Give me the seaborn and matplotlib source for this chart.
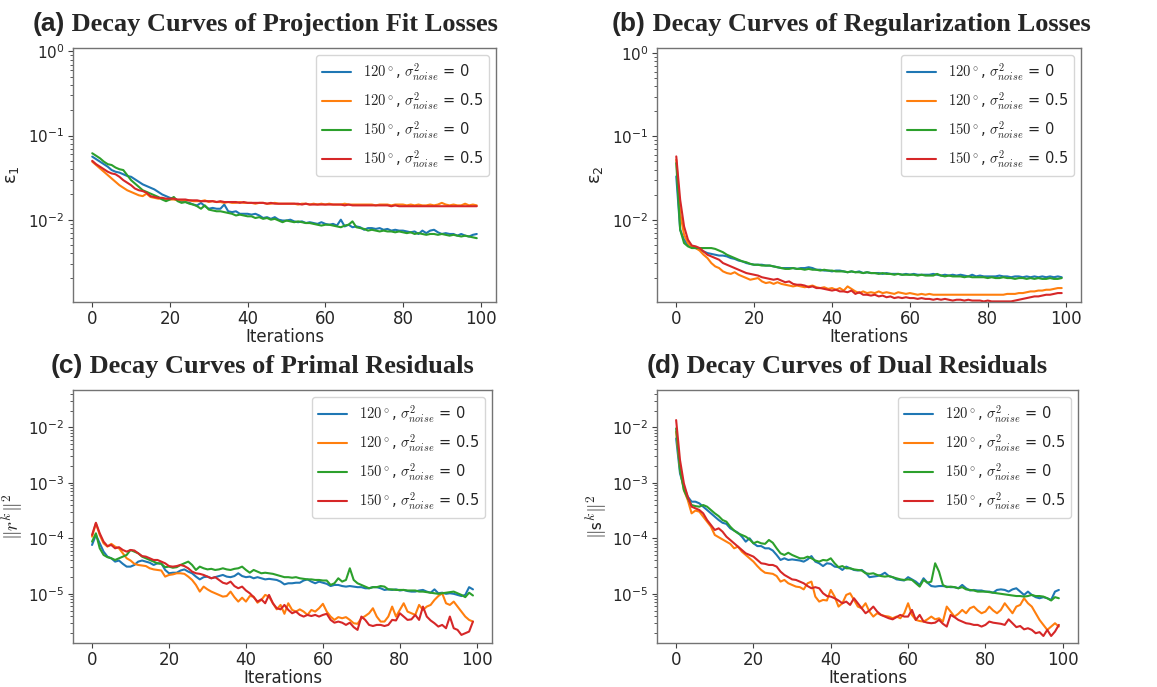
import matplotlib
matplotlib.use("Agg")
import matplotlib.pyplot as plt
import numpy as np
import seaborn as sns

sns.set_style("white")
plt.rcParams['font.family'] = ['DejaVu Sans']
plt.rcParams['mathtext.fontset'] = 'cm'
plt.rcParams['axes.unicode_minus'] = False

# all curve values are log10 of the plotted quantity
iterations = np.arange(100)

fit_120_clean = [-1.25,-1.28,-1.31,-1.34,-1.37,-1.41,-1.43,-1.44,-1.46,-1.48,
 -1.49,-1.52,-1.55,-1.58,-1.60,-1.62,-1.64,-1.67,-1.70,-1.72,
 -1.74,-1.75,-1.77,-1.78,-1.79,-1.80,-1.82,-1.83,-1.80,-1.84,
 -1.87,-1.86,-1.87,-1.87,-1.82,-1.90,-1.91,-1.90,-1.93,-1.93,
 -1.93,-1.94,-1.93,-1.95,-1.98,-1.97,-1.99,-1.97,-2.00,-2.01,
 -2.01,-2.00,-2.02,-2.03,-2.02,-2.04,-2.03,-2.04,-2.05,-2.03,
 -2.05,-2.06,-2.05,-2.07,-2.00,-2.08,-2.06,-2.09,-2.08,-2.09,
 -2.12,-2.10,-2.10,-2.11,-2.10,-2.12,-2.11,-2.13,-2.12,-2.13,
 -2.13,-2.14,-2.15,-2.14,-2.17,-2.13,-2.16,-2.13,-2.12,-2.15,
 -2.17,-2.16,-2.17,-2.17,-2.19,-2.17,-2.19,-2.20,-2.18,-2.17]
fit_120_noisy = [-1.31,-1.35,-1.39,-1.43,-1.47,-1.51,-1.55,-1.59,-1.62,-1.65,
 -1.67,-1.69,-1.71,-1.72,-1.69,-1.73,-1.74,-1.75,-1.75,-1.76,
 -1.76,-1.76,-1.77,-1.77,-1.77,-1.77,-1.78,-1.78,-1.78,-1.77,
 -1.79,-1.78,-1.79,-1.79,-1.80,-1.79,-1.80,-1.80,-1.79,-1.80,
 -1.80,-1.80,-1.81,-1.80,-1.80,-1.81,-1.81,-1.80,-1.81,-1.81,
 -1.81,-1.81,-1.81,-1.82,-1.81,-1.81,-1.82,-1.81,-1.82,-1.81,
 -1.82,-1.81,-1.82,-1.82,-1.82,-1.81,-1.82,-1.82,-1.82,-1.82,
 -1.82,-1.82,-1.82,-1.83,-1.82,-1.82,-1.82,-1.83,-1.82,-1.82,
 -1.82,-1.83,-1.82,-1.83,-1.82,-1.83,-1.83,-1.82,-1.83,-1.82,
 -1.80,-1.82,-1.83,-1.82,-1.83,-1.83,-1.81,-1.83,-1.82,-1.83]
fit_150_clean = [-1.21,-1.24,-1.27,-1.31,-1.34,-1.35,-1.38,-1.40,-1.41,-1.47,
 -1.53,-1.57,-1.61,-1.65,-1.67,-1.69,-1.71,-1.73,-1.76,-1.78,
 -1.76,-1.73,-1.78,-1.80,-1.79,-1.81,-1.82,-1.84,-1.87,-1.83,
 -1.88,-1.89,-1.90,-1.90,-1.91,-1.92,-1.93,-1.95,-1.94,-1.95,
 -1.96,-1.96,-1.98,-1.97,-1.99,-1.98,-2.00,-1.99,-2.01,-2.03,
 -2.01,-2.02,-2.03,-2.02,-2.03,-2.04,-2.04,-2.05,-2.06,-2.07,
 -2.06,-2.06,-2.07,-2.08,-2.09,-2.07,-2.06,-2.02,-2.09,-2.10,
 -2.11,-2.13,-2.12,-2.13,-2.14,-2.13,-2.14,-2.14,-2.15,-2.14,
 -2.15,-2.16,-2.15,-2.17,-2.16,-2.17,-2.18,-2.17,-2.17,-2.18,
 -2.17,-2.18,-2.19,-2.18,-2.19,-2.20,-2.19,-2.20,-2.21,-2.22]
fit_150_noisy = [-1.30,-1.34,-1.37,-1.40,-1.43,-1.45,-1.46,-1.49,-1.53,-1.56,
 -1.59,-1.63,-1.65,-1.66,-1.68,-1.72,-1.73,-1.74,-1.74,-1.75,
 -1.75,-1.75,-1.76,-1.76,-1.76,-1.77,-1.77,-1.77,-1.78,-1.78,
 -1.78,-1.78,-1.79,-1.78,-1.79,-1.79,-1.79,-1.79,-1.80,-1.79,
 -1.80,-1.80,-1.80,-1.80,-1.80,-1.81,-1.80,-1.81,-1.81,-1.81,
 -1.81,-1.81,-1.81,-1.81,-1.82,-1.81,-1.82,-1.82,-1.82,-1.82,
 -1.82,-1.82,-1.82,-1.82,-1.82,-1.83,-1.82,-1.83,-1.83,-1.83,
 -1.83,-1.83,-1.83,-1.83,-1.83,-1.83,-1.83,-1.84,-1.83,-1.84,
 -1.84,-1.84,-1.84,-1.84,-1.84,-1.84,-1.84,-1.84,-1.84,-1.84,
 -1.84,-1.84,-1.84,-1.84,-1.84,-1.84,-1.84,-1.84,-1.84,-1.84]

reg_120_clean = [-1.48,-2.12,-2.24,-2.30,-2.33,-2.34,-2.36,-2.38,-2.40,-2.41,
 -2.42,-2.43,-2.43,-2.44,-2.46,-2.47,-2.49,-2.50,-2.52,-2.53,
 -2.54,-2.54,-2.54,-2.55,-2.55,-2.56,-2.57,-2.58,-2.58,-2.58,
 -2.58,-2.59,-2.58,-2.58,-2.57,-2.58,-2.60,-2.60,-2.61,-2.61,
 -2.62,-2.61,-2.61,-2.62,-2.63,-2.62,-2.63,-2.62,-2.64,-2.63,
 -2.64,-2.64,-2.64,-2.65,-2.64,-2.65,-2.65,-2.65,-2.66,-2.65,
 -2.66,-2.65,-2.66,-2.66,-2.66,-2.66,-2.65,-2.66,-2.67,-2.66,
 -2.67,-2.66,-2.67,-2.66,-2.67,-2.68,-2.66,-2.68,-2.67,-2.68,
 -2.68,-2.68,-2.68,-2.67,-2.68,-2.68,-2.69,-2.68,-2.68,-2.69,
 -2.68,-2.69,-2.68,-2.69,-2.68,-2.69,-2.68,-2.69,-2.68,-2.69]
reg_120_noisy = [-1.28,-1.92,-2.18,-2.28,-2.33,-2.34,-2.37,-2.42,-2.46,-2.52,
 -2.56,-2.58,-2.62,-2.64,-2.65,-2.63,-2.66,-2.68,-2.70,-2.72,
 -2.71,-2.70,-2.74,-2.76,-2.75,-2.77,-2.75,-2.77,-2.78,-2.79,
 -2.80,-2.79,-2.80,-2.81,-2.80,-2.79,-2.81,-2.82,-2.81,-2.83,
 -2.82,-2.84,-2.82,-2.85,-2.80,-2.83,-2.86,-2.88,-2.86,-2.88,
 -2.87,-2.88,-2.86,-2.88,-2.87,-2.88,-2.89,-2.87,-2.88,-2.89,
 -2.88,-2.89,-2.90,-2.89,-2.90,-2.89,-2.90,-2.90,-2.90,-2.90,
 -2.90,-2.90,-2.90,-2.90,-2.90,-2.90,-2.90,-2.90,-2.90,-2.90,
 -2.90,-2.90,-2.90,-2.90,-2.90,-2.89,-2.89,-2.89,-2.88,-2.88,
 -2.87,-2.86,-2.86,-2.85,-2.85,-2.84,-2.84,-2.83,-2.82,-2.82]
reg_150_clean = [-1.32,-2.12,-2.28,-2.32,-2.34,-2.34,-2.34,-2.34,-2.34,-2.34,
 -2.35,-2.37,-2.39,-2.42,-2.44,-2.46,-2.48,-2.50,-2.51,-2.53,
 -2.54,-2.54,-2.55,-2.55,-2.55,-2.56,-2.57,-2.58,-2.59,-2.59,
 -2.58,-2.59,-2.59,-2.60,-2.59,-2.60,-2.60,-2.61,-2.60,-2.61,
 -2.61,-2.62,-2.62,-2.62,-2.63,-2.62,-2.63,-2.63,-2.64,-2.63,
 -2.64,-2.64,-2.65,-2.64,-2.65,-2.65,-2.66,-2.65,-2.66,-2.66,
 -2.66,-2.66,-2.67,-2.66,-2.67,-2.67,-2.67,-2.65,-2.67,-2.68,
 -2.67,-2.68,-2.68,-2.68,-2.69,-2.68,-2.69,-2.69,-2.69,-2.69,
 -2.70,-2.69,-2.70,-2.70,-2.69,-2.70,-2.70,-2.71,-2.70,-2.70,
 -2.71,-2.70,-2.71,-2.70,-2.71,-2.71,-2.70,-2.71,-2.71,-2.70]
reg_150_noisy = [-1.24,-1.76,-2.08,-2.24,-2.31,-2.32,-2.34,-2.38,-2.42,-2.44,
 -2.46,-2.48,-2.52,-2.54,-2.56,-2.58,-2.60,-2.62,-2.64,-2.65,
 -2.66,-2.67,-2.69,-2.70,-2.71,-2.72,-2.71,-2.73,-2.75,-2.74,
 -2.77,-2.78,-2.78,-2.79,-2.81,-2.80,-2.82,-2.82,-2.83,-2.84,
 -2.85,-2.84,-2.86,-2.86,-2.87,-2.85,-2.89,-2.87,-2.90,-2.90,
 -2.91,-2.90,-2.92,-2.91,-2.93,-2.92,-2.94,-2.93,-2.94,-2.93,
 -2.94,-2.94,-2.95,-2.94,-2.95,-2.95,-2.96,-2.95,-2.96,-2.95,
 -2.96,-2.97,-2.96,-2.96,-2.97,-2.96,-2.97,-2.97,-2.97,-2.98,
 -2.97,-2.98,-2.98,-2.98,-2.98,-2.98,-2.98,-2.97,-2.96,-2.95,
 -2.94,-2.93,-2.92,-2.92,-2.91,-2.90,-2.90,-2.89,-2.88,-2.88]

primal_120_clean = [-4.12,-3.94,-4.09,-4.24,-4.33,-4.36,-4.42,-4.40,-4.46,-4.51,
 -4.51,-4.48,-4.42,-4.40,-4.42,-4.44,-4.48,-4.45,-4.45,-4.57,
 -4.63,-4.62,-4.62,-4.58,-4.56,-4.60,-4.63,-4.69,-4.74,-4.70,
 -4.69,-4.72,-4.70,-4.68,-4.66,-4.69,-4.70,-4.68,-4.63,-4.68,
 -4.70,-4.69,-4.72,-4.70,-4.72,-4.74,-4.73,-4.74,-4.75,-4.78,
 -4.83,-4.81,-4.81,-4.80,-4.80,-4.76,-4.74,-4.78,-4.81,-4.78,
 -4.80,-4.82,-4.86,-4.84,-4.84,-4.86,-4.87,-4.86,-4.87,-4.88,
 -4.88,-4.90,-4.90,-4.88,-4.88,-4.90,-4.93,-4.92,-4.93,-4.92,
 -4.94,-4.93,-4.95,-4.96,-4.96,-4.94,-4.93,-4.96,-4.98,-4.92,
 -4.99,-4.98,-5.00,-4.99,-5.00,-5.02,-5.04,-5.02,-4.88,-4.92]
primal_120_noisy = [-3.97,-3.73,-3.94,-4.09,-4.15,-4.10,-4.15,-4.18,-4.27,-4.36,
 -4.40,-4.46,-4.48,-4.49,-4.50,-4.54,-4.56,-4.57,-4.58,-4.69,
 -4.66,-4.65,-4.63,-4.63,-4.64,-4.69,-4.75,-4.84,-4.96,-4.87,
 -4.92,-4.96,-4.99,-5.02,-5.05,-5.04,-4.96,-5.06,-5.14,-5.07,
 -5.14,-5.04,-5.05,-5.16,-5.11,-5.02,-5.05,-5.17,-5.28,-5.20,
 -5.36,-5.17,-5.29,-5.32,-5.28,-5.32,-5.38,-5.29,-5.32,-5.26,
 -5.18,-5.32,-5.41,-5.47,-5.42,-5.44,-5.42,-5.47,-5.53,-5.54,
 -5.44,-5.40,-5.35,-5.26,-5.41,-5.50,-5.50,-5.41,-5.23,-5.41,
 -5.29,-5.17,-5.32,-5.35,-5.38,-5.20,-5.29,-5.23,-5.20,-5.11,
 -5.04,-4.99,-5.17,-5.20,-5.14,-5.23,-5.32,-5.41,-5.47,-5.50]
primal_150_clean = [-4.06,-3.91,-4.18,-4.30,-4.34,-4.36,-4.39,-4.36,-4.33,-4.30,
 -4.21,-4.24,-4.27,-4.33,-4.36,-4.39,-4.42,-4.45,-4.46,-4.52,
 -4.51,-4.53,-4.52,-4.48,-4.45,-4.42,-4.48,-4.57,-4.51,-4.54,
 -4.56,-4.55,-4.57,-4.56,-4.54,-4.56,-4.57,-4.55,-4.54,-4.51,
 -4.57,-4.62,-4.57,-4.60,-4.63,-4.62,-4.63,-4.64,-4.66,-4.68,
 -4.70,-4.70,-4.71,-4.70,-4.72,-4.73,-4.74,-4.74,-4.75,-4.75,
 -4.76,-4.76,-4.84,-4.81,-4.72,-4.78,-4.75,-4.54,-4.75,-4.81,
 -4.84,-4.87,-4.90,-4.88,-4.88,-4.86,-4.87,-4.92,-4.92,-4.93,
 -4.93,-4.93,-4.94,-4.94,-4.94,-4.96,-4.96,-4.97,-4.98,-4.99,
 -5.00,-4.99,-4.98,-4.97,-4.96,-4.99,-5.02,-5.06,-4.98,-5.03]
primal_150_noisy = [-3.94,-3.72,-3.91,-4.06,-4.14,-4.12,-4.18,-4.16,-4.21,-4.24,
 -4.21,-4.22,-4.27,-4.32,-4.33,-4.36,-4.39,-4.39,-4.42,-4.45,
 -4.50,-4.51,-4.50,-4.48,-4.50,-4.54,-4.60,-4.63,-4.64,-4.66,
 -4.69,-4.72,-4.70,-4.75,-4.80,-4.82,-4.78,-4.86,-4.90,-4.87,
 -4.94,-4.99,-5.06,-5.14,-5.10,-5.17,-5.02,-5.17,-5.26,-5.28,
 -5.20,-5.29,-5.35,-5.32,-5.38,-5.41,-5.38,-5.40,-5.38,-5.41,
 -5.38,-5.36,-5.47,-5.52,-5.50,-5.52,-5.56,-5.52,-5.60,-5.65,
 -5.41,-5.47,-5.56,-5.58,-5.56,-5.56,-5.58,-5.56,-5.47,-5.48,
 -5.35,-5.41,-5.47,-5.46,-5.38,-5.47,-5.23,-5.41,-5.48,-5.53,
 -5.59,-5.56,-5.62,-5.41,-5.62,-5.65,-5.74,-5.71,-5.68,-5.50]

dual_120_clean = [-2.20,-2.83,-3.07,-3.25,-3.34,-3.34,-3.37,-3.43,-3.49,-3.55,
 -3.61,-3.67,-3.72,-3.74,-3.82,-3.86,-3.90,-3.97,-4.06,-4.00,
 -4.09,-4.14,-4.14,-4.18,-4.18,-4.22,-4.30,-4.39,-4.36,-4.39,
 -4.38,-4.39,-4.40,-4.42,-4.38,-4.32,-4.42,-4.45,-4.50,-4.45,
 -4.46,-4.51,-4.52,-4.57,-4.51,-4.54,-4.57,-4.58,-4.57,-4.62,
 -4.70,-4.69,-4.68,-4.66,-4.62,-4.68,-4.70,-4.74,-4.75,-4.76,
 -4.70,-4.74,-4.78,-4.84,-4.72,-4.80,-4.86,-4.87,-4.86,-4.86,
 -4.87,-4.88,-4.88,-4.90,-4.84,-4.90,-4.94,-4.93,-4.94,-4.94,
 -4.96,-4.96,-4.98,-4.93,-4.92,-4.93,-4.96,-4.92,-4.90,-4.96,
 -5.02,-4.96,-5.02,-5.06,-5.08,-5.06,-5.08,-5.11,-4.96,-4.93]
dual_120_noisy = [-2.08,-2.74,-3.13,-3.31,-3.55,-3.50,-3.52,-3.61,-3.70,-3.79,
 -3.94,-3.98,-4.02,-4.06,-4.10,-4.18,-4.15,-4.24,-4.30,-4.36,
 -4.42,-4.50,-4.57,-4.62,-4.63,-4.64,-4.68,-4.78,-4.75,-4.81,
 -4.84,-4.87,-4.88,-4.92,-4.81,-4.78,-5.05,-5.14,-5.11,-5.12,
 -4.93,-5.05,-5.23,-5.17,-5.02,-4.99,-5.11,-5.23,-5.26,-5.17,
 -5.32,-5.41,-5.35,-5.38,-5.40,-5.41,-5.44,-5.41,-5.44,-5.35,
 -5.17,-5.38,-5.47,-5.49,-5.50,-5.46,-5.41,-5.46,-5.44,-5.50,
 -5.23,-5.32,-5.41,-5.36,-5.29,-5.35,-5.26,-5.23,-5.30,-5.35,
 -5.32,-5.23,-5.30,-5.35,-5.29,-5.17,-5.26,-5.35,-5.23,-5.20,
 -5.08,-5.17,-5.23,-5.35,-5.47,-5.56,-5.65,-5.59,-5.53,-5.59]
dual_150_clean = [-2.02,-2.77,-3.13,-3.28,-3.40,-3.42,-3.43,-3.40,-3.43,-3.49,
 -3.55,-3.60,-3.67,-3.70,-3.79,-3.86,-3.91,-3.94,-3.97,-4.02,
 -4.09,-4.06,-4.09,-4.10,-4.03,-4.08,-4.18,-4.27,-4.30,-4.26,
 -4.30,-4.33,-4.36,-4.36,-4.33,-4.36,-4.40,-4.42,-4.39,-4.40,
 -4.36,-4.45,-4.52,-4.50,-4.54,-4.54,-4.56,-4.57,-4.58,-4.63,
 -4.64,-4.63,-4.66,-4.68,-4.69,-4.68,-4.70,-4.72,-4.74,-4.75,
 -4.74,-4.75,-4.81,-4.87,-4.75,-4.80,-4.78,-4.45,-4.60,-4.84,
 -4.88,-4.87,-4.88,-4.90,-4.88,-4.92,-4.93,-4.94,-4.96,-4.96,
 -4.96,-4.97,-4.98,-4.99,-5.00,-5.01,-5.02,-5.03,-5.04,-5.04,
 -5.05,-5.04,-5.02,-5.04,-5.04,-5.05,-5.08,-5.12,-5.06,-5.08]
dual_150_noisy = [-1.87,-2.59,-3.01,-3.25,-3.43,-3.46,-3.49,-3.55,-3.67,-3.76,
 -3.85,-3.82,-3.88,-3.97,-4.03,-4.09,-4.15,-4.21,-4.27,-4.30,
 -4.33,-4.39,-4.45,-4.46,-4.48,-4.48,-4.51,-4.60,-4.66,-4.70,
 -4.74,-4.75,-4.78,-4.81,-4.86,-4.90,-4.88,-4.90,-4.99,-5.04,
 -5.05,-5.08,-5.12,-5.17,-5.14,-5.20,-5.08,-5.17,-5.26,-5.35,
 -5.30,-5.23,-5.32,-5.38,-5.41,-5.44,-5.46,-5.42,-5.38,-5.41,
 -5.41,-5.29,-5.47,-5.38,-5.50,-5.52,-5.53,-5.52,-5.47,-5.54,
 -5.59,-5.38,-5.42,-5.47,-5.50,-5.53,-5.54,-5.56,-5.56,-5.59,
 -5.56,-5.50,-5.52,-5.53,-5.54,-5.56,-5.46,-5.53,-5.60,-5.58,
 -5.64,-5.62,-5.65,-5.71,-5.69,-5.76,-5.65,-5.76,-5.68,-5.56]

series_labels = [r"$120^\circ$, $\sigma^2_{noise}$ = 0",
                 r"$120^\circ$, $\sigma^2_{noise}$ = 0.5",
                 r"$150^\circ$, $\sigma^2_{noise}$ = 0",
                 r"$150^\circ$, $\sigma^2_{noise}$ = 0.5"]
colors = ['#1f77b4', '#ff7f0e', '#2ca02c', '#d62728']

panel_tags = ['(a)', '(b)', '(c)', '(d)']
panel_titles = ['Decay Curves of Projection Fit Losses',
                'Decay Curves of Regularization Losses',
                'Decay Curves of Primal Residuals',
                'Decay Curves of Dual Residuals']
panel_ylabels = [r"$\mathdefault{ε_1}$", r"$\mathdefault{ε_2}$",
                 r"$\|r^k\|^2$", r"$\|\mathsf{s}^k\|^2$"]
panel_ylims = [(1.05e-3, 1.1), (1.03e-3, 1.15), (1.3e-6, 4.7e-2), (1.3e-6, 4.7e-2)]
panel_data = [
    [fit_120_clean, fit_120_noisy, fit_150_clean, fit_150_noisy],
    [reg_120_clean, reg_120_noisy, reg_150_clean, reg_150_noisy],
    [primal_120_clean, primal_120_noisy, primal_150_clean, primal_150_noisy],
    [dual_120_clean, dual_120_noisy, dual_150_clean, dual_150_noisy],
]

W, H = 1157, 687
fig = plt.figure(figsize=(W / 100, H / 100), dpi=100)
fig.patch.set_facecolor('white')

# axes boxes in pixels: left, top, right, bottom
boxes = [(73, 48, 496, 302), (657, 48, 1081, 302),
         (73, 390, 492, 643), (657, 390, 1078, 643)]
title_pos = [(265, 31), (851, 31), (262, 373), (847, 373)]


def draw_title(xc, yb, tag, text):
    r = fig.canvas.get_renderer()
    y = 1 - yb / H
    t1 = fig.text(0, y, tag, fontsize=19, fontweight='bold',
                  family='Liberation Sans', va='baseline')
    t2 = fig.text(0, y, ' ' + text, fontsize=19, fontweight='bold',
                  family='Liberation Serif', va='baseline')
    w1 = t1.get_window_extent(r).width
    w2 = t2.get_window_extent(r).width
    x0 = xc - (w1 + w2) / 2
    t1.set_x(x0 / W)
    t2.set_x((x0 + w1) / W)


for i in range(4):
    l, t, rr, b = boxes[i]
    ax = fig.add_axes([l / W, 1 - b / H, (rr - l) / W, (b - t) / H])
    for vals, lab, col in zip(panel_data[i], series_labels, colors):
        sns.lineplot(x=iterations, y=10 ** np.array(vals), ax=ax,
                     color=col, label=lab, linewidth=1.5)
    ax.set_yscale('log')
    ax.set_ylim(*panel_ylims[i])
    ax.set_xlim(-4.95, 103.95)
    ax.set_xticks([0, 20, 40, 60, 80, 100])
    ax.set_xlabel('Iterations', fontsize=12, labelpad=0)
    if i < 2:
        ax.set_ylabel(panel_ylabels[i], fontsize=13, labelpad=5)
    else:
        ax.set_ylabel(panel_ylabels[i], fontsize=14, labelpad=2)
    ax.tick_params(axis='both', which='major', length=3.5,
                   width=0.8, color='0.25', direction='out', pad=2.5,
                   left=True, bottom=True)
    ax.tick_params(axis='x', which='major', labelsize=12)
    ax.tick_params(axis='y', which='major', labelsize=11)
    ax.tick_params(axis='y', which='minor', length=2, width=0.6, color='0.25',
                   direction='out', left=True)
    for s in ax.spines.values():
        s.set_color('0.45')
        s.set_linewidth(1.0)
    ax.legend(loc='upper right', fontsize=10.5)
    draw_title(title_pos[i][0], title_pos[i][1], panel_tags[i], panel_titles[i])

fig.savefig('out.png', dpi=100, facecolor='white')
